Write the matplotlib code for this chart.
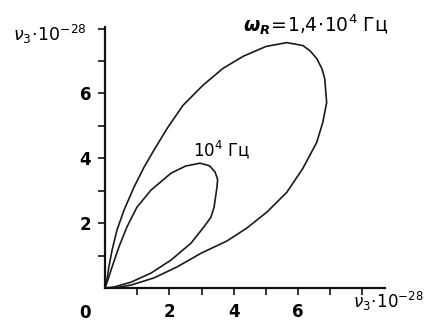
import numpy as np
import matplotlib
matplotlib.use('Agg')
import matplotlib.pyplot as plt

# outer loop, omega_R = 1.4e4 Hz (units of 1e28)
outer_x = [0.0, 0.06, 0.12, 0.22, 0.37, 0.59, 0.90, 1.21, 1.52, 1.93, 2.42, 3.04,
           3.66, 4.30, 5.00, 5.65, 6.15, 6.37, 6.58, 6.74, 6.83, 6.89, 6.77, 6.58,
           6.15, 5.65, 5.03, 4.41, 3.79, 3.00, 2.24, 1.52, 0.81, 0.28, 0.0]
outer_y = [0.0, 0.25, 0.65, 1.17, 1.78, 2.40, 3.11, 3.72, 4.25, 4.92, 5.63, 6.25,
           6.77, 7.15, 7.45, 7.57, 7.48, 7.32, 7.08, 6.77, 6.46, 5.72, 5.11, 4.49,
           3.69, 2.95, 2.34, 1.85, 1.45, 1.08, 0.65, 0.31, 0.09, 0.0, 0.0]

# inner loop, omega_R = 1e4 Hz
inner_x = [0.0, 0.09, 0.22, 0.43, 0.68, 0.99, 1.43, 2.05, 2.50, 2.95, 3.25, 3.42,
           3.50, 3.48, 3.39, 3.29, 3.07, 2.67, 2.05, 1.43, 0.81, 0.28, 0.0]
inner_y = [0.0, 0.25, 0.65, 1.26, 1.88, 2.49, 3.02, 3.54, 3.76, 3.85, 3.77, 3.58,
           3.35, 3.11, 2.49, 2.18, 1.88, 1.38, 0.86, 0.46, 0.18, 0.03, 0.0]

x_ticks = [2, 4, 6]
y_ticks = [2, 4, 6]

fig = plt.figure(figsize=(4.26, 3.27), dpi=100)
ax = fig.add_axes([0.2465, 0.1193, 0.657, 0.798])

ax.plot(outer_x, outer_y, color='#1a1a1a', lw=1.2, solid_joinstyle='round')
ax.plot(inner_x, inner_y, color='#1a1a1a', lw=1.2, solid_joinstyle='round')

ax.set_xlim(0, 8.7)
ax.set_ylim(0, 8.05)
for s in ['top', 'right']:
    ax.spines[s].set_visible(False)
for s in ['left', 'bottom']:
    ax.spines[s].set_linewidth(1.6)
    ax.spines[s].set_color('#111111')

ax.set_xticks(range(1, 9), minor=True)
ax.set_yticks(range(1, 9), minor=True)
ax.set_xticks(x_ticks)
ax.set_yticks(y_ticks)
ax.set_xticklabels([str(t) for t in x_ticks], fontsize=12, fontweight='bold')
ax.set_yticklabels([str(t) for t in y_ticks], fontsize=12, fontweight='bold')
ax.tick_params(which='both', direction='out', length=5, width=1.2, color='#111111')
ax.tick_params(axis='x', pad=6)
ax.tick_params(axis='y', pad=5)

ax.text(-0.62, -0.5, '0', fontsize=12, fontweight='bold', ha='center', va='top')

# axis captions
fig.text(0.03, 0.875, r'$\nu_3\!\cdot\!10^{-28}$', fontsize=12.5)
fig.text(0.995, 0.058, r'$\nu_3\!\cdot\!10^{-28}$', fontsize=12, ha='right')

# curve labels
fig.text(0.57, 0.902, r'$\mathbfit{\omega}_{\mathbfit{R}}\!=\!1{,}4\!\cdot\!10^4$ Гц', fontsize=13.5)
ax.text(2.75, 4.05, r'$10^4$ Гц', fontsize=12)

fig.savefig('out.png', dpi=100)
